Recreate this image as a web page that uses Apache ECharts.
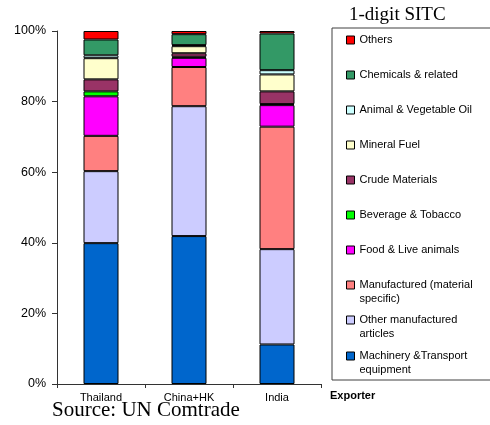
<!DOCTYPE html>
<html>
<head>
<meta charset="utf-8">
<script src="https://cdn.jsdelivr.net/npm/echarts@6/dist/echarts.min.js"></script>
<style>html,body{margin:0;padding:0;background:#fff}#c{width:490px;height:425px}</style>
</head>
<body>
<div id="c"></div>
<script>
const categories = ['Thailand', 'China+HK', 'India'];
const yTicks = [0, 20, 40, 60, 80, 100];

// series listed bottom to top (values in % of exports)
const machinery     = [39.9, 41.9, 11.2];
const otherManuf    = [20.4, 36.8, 27.0];
const manufactured  = [10.0, 11.1, 34.7];
const food          = [11.2, 2.6, 6.1];
const beverage      = [1.4, 0.3, 0.3];
const crude         = [3.4, 1.0, 3.6];
const mineral       = [6.0, 2.0, 4.8];
const animalOil     = [0.8, 0.3, 1.2];
const chemicals     = [4.5, 3.1, 10.4];
const others        = [2.4, 0.9, 0.7];

const seriesNames = ['Machinery &Transport equipment', 'Other manufactured articles', 'Manufactured (material specific)',
  'Food & Live animals', 'Beverage & Tobacco', 'Crude Materials', 'Mineral Fuel', 'Animal & Vegetable Oil',
  'Chemicals & related', 'Others'];
const legendLabels = ['Machinery &Transport\nequipment', 'Other manufactured\narticles', 'Manufactured (material\nspecific)',
  'Food & Live animals', 'Beverage & Tobacco', 'Crude Materials', 'Mineral Fuel', 'Animal & Vegetable Oil',
  'Chemicals & related', 'Others'];
const seriesData = [machinery, otherManuf, manufactured, food, beverage, crude, mineral, animalOil, chemicals, others];
const colors = ['#0066CC', '#CCCCFF', '#FF8080', '#FF00FF', '#00FF00', '#993366', '#FFFFCC', '#CCFFFF', '#339966', '#FF0000'];
// legend first-line centre y for each series
const legendY = [356, 320, 285, 250, 215, 180, 145, 110, 75, 40];

const chart = echarts.init(document.getElementById('c'), null, {renderer: 'canvas'});

const legends = seriesNames.map((n, i) => {
  const twoLine = legendLabels[i].indexOf('\n') >= 0;
  return {
    orient: 'vertical', left: 346, top: legendY[i] - (twoLine ? 21 : 7), padding: 0,
    itemWidth: 8, itemHeight: 8, icon: 'rect',
    data: [n],
    formatter: () => twoLine ? '\n' + legendLabels[i] : legendLabels[i],
    itemStyle: {borderColor: '#000', borderWidth: 1},
    textStyle: {fontFamily: 'Liberation Sans, Arial, sans-serif', fontSize: 11, color: '#000', lineHeight: 14}
  };
});

chart.setOption({
  animation: false,
  title: [
    {text: '1-digit SITC', left: 349, top: 6, padding: 0,
     textStyle: {fontFamily: 'Liberation Serif, Times New Roman, serif', fontWeight: 'normal', fontSize: 19, color: '#000'}},
    {text: 'Source: UN Comtrade', left: 52, top: 400, padding: 0,
     textStyle: {fontFamily: 'Liberation Serif, Times New Roman, serif', fontWeight: 'normal', fontSize: 21, color: '#000'}},
    {text: 'Exporter', left: 330, top: 390, padding: 0,
     textStyle: {fontFamily: 'Liberation Sans, Arial, sans-serif', fontWeight: 'bold', fontSize: 11, color: '#000'}}
  ],
  legend: legends,
  graphic: [{
    type: 'rect', shape: {x: 332, y: 28, width: 200, height: 352},
    style: {fill: 'none', stroke: '#404040', lineWidth: 1}, silent: true, z: -1
  }],
  grid: {left: 57, right: 169, top: 31, bottom: 41, containLabel: false},
  xAxis: {
    type: 'category', data: categories,
    axisLine: {lineStyle: {color: '#333', width: 1}},
    axisTick: {show: true, length: 4, lineStyle: {color: '#333'}},
    axisLabel: {fontFamily: 'Liberation Sans, Arial, sans-serif', fontSize: 11, color: '#000', margin: 8}
  },
  yAxis: {
    type: 'value', min: yTicks[0], max: yTicks[yTicks.length - 1], interval: 20,
    axisLine: {show: true, lineStyle: {color: '#333', width: 1}},
    axisTick: {show: true, length: 5, lineStyle: {color: '#333'}},
    splitLine: {show: false},
    axisLabel: {formatter: '{value}%', fontFamily: 'Liberation Sans, Arial, sans-serif', fontSize: 12.5, color: '#000', margin: 11}
  },
  series: seriesNames.map((n, i) => ({
    name: n, type: 'bar', stack: 'total', data: seriesData[i], barWidth: 35,
    itemStyle: {color: colors[i], borderColor: '#000', borderWidth: 1}
  }))
});
</script>
</body>
</html>
